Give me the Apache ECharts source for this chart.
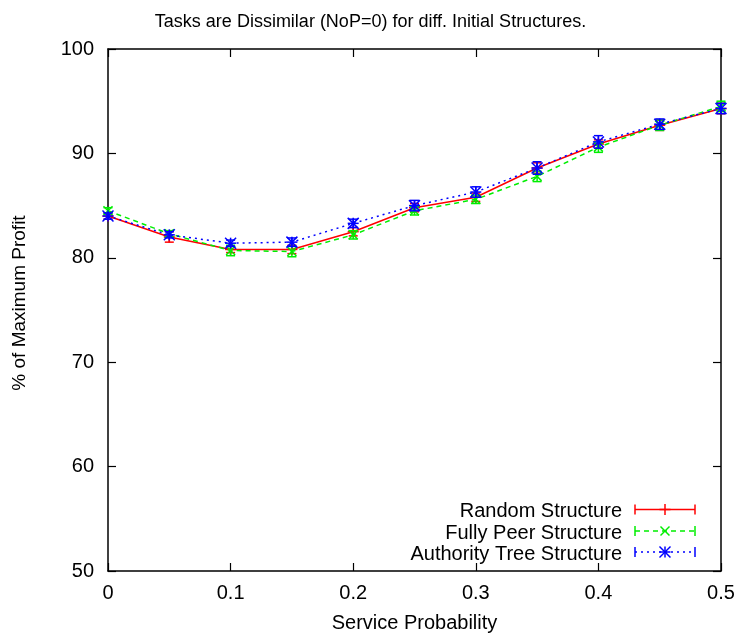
<!DOCTYPE html>
<html><head><meta charset="utf-8">
<script src="https://cdn.jsdelivr.net/npm/echarts@6/dist/echarts.min.js"></script>
<style>html,body{margin:0;padding:0;background:#fff}#c{width:741px;height:639px}</style>
</head><body><div id="c"></div>
<script>
var xValues = [0, 0.05, 0.1, 0.15, 0.2, 0.25, 0.3, 0.35, 0.4, 0.45, 0.5];
var randomVals = [84.0, 82.0, 80.8, 80.8, 82.5, 84.8, 85.8, 88.6, 90.9, 92.7, 94.3];
var randomErr  = [0.3, 0.5, 0.3, 0.4, 0.4, 0.4, 0.4, 0.5, 0.4, 0.5, 0.5];
var fullyVals = [84.5, 82.3, 80.7, 80.6, 82.2, 84.5, 85.6, 87.8, 90.6, 92.7, 94.5];
var fullyErr  = [0.3, 0.3, 0.5, 0.5, 0.4, 0.4, 0.4, 0.5, 0.5, 0.5, 0.5];
var authVals = [84.0, 82.2, 81.4, 81.5, 83.3, 85.0, 86.3, 88.6, 91.1, 92.8, 94.3];
var authErr  = [0.3, 0.3, 0.3, 0.4, 0.4, 0.5, 0.5, 0.6, 0.6, 0.5, 0.5];
var seriesNames = ['Random Structure', 'Fully Peer Structure', 'Authority Tree Structure'];
var xTicks = [0, 0.1, 0.2, 0.3, 0.4, 0.5];
var yTicks = [50, 60, 70, 80, 90, 100];

var FONT = 'Liberation Sans, Arial, Helvetica, sans-serif';
var FS = 20;
var colors = ['#ff0000', '#00ee00', '#0000ff'];
var dashes = ['solid', [5, 4], [2, 4]];
var glyphs = ['plus', 'cross', 'star'];

function pairs(v) { return xValues.map(function (x, i) { return [x, v[i]]; }); }
function errData(v, e) { return xValues.map(function (x, i) { return [x, v[i] - e[i], v[i] + e[i], v[i]]; }); }

function glyph(kind, cx, cy, r, color) {
  var els = [];
  var st = { stroke: color, lineWidth: 1.5 };
  function ln(x1, y1, x2, y2) { els.push({ type: 'line', shape: { x1: x1, y1: y1, x2: x2, y2: y2 }, style: st }); }
  if (kind === 'plus' || kind === 'star') { ln(cx - r, cy, cx + r, cy); ln(cx, cy - r, cx, cy + r); }
  if (kind === 'cross' || kind === 'star') { ln(cx - r, cy - r, cx + r, cy + r); ln(cx - r, cy + r, cx + r, cy - r); }
  return els;
}

function makeErrRender(idx) {
  return function (params, api) {
    var x = api.value(0);
    var lo = api.coord([x, api.value(1)]);
    var hi = api.coord([x, api.value(2)]);
    var c = api.coord([x, api.value(3)]);
    var st = { stroke: colors[idx], lineWidth: 1.5 };
    var w = 4.5;
    var ch = [
      { type: 'line', shape: { x1: lo[0], y1: lo[1], x2: hi[0], y2: hi[1] }, style: st },
      { type: 'line', shape: { x1: lo[0] - w, y1: lo[1], x2: lo[0] + w, y2: lo[1] }, style: st },
      { type: 'line', shape: { x1: hi[0] - w, y1: hi[1], x2: hi[0] + w, y2: hi[1] }, style: st }
    ];
    ch = ch.concat(glyph(glyphs[idx], c[0], c[1], idx === 1 ? 4.5 : 5.5, colors[idx]));
    return { type: 'group', children: ch };
  };
}

var series = [];
var vals = [randomVals, fullyVals, authVals];
var errs = [randomErr, fullyErr, authErr];
for (var i = 0; i < 3; i++) {
  series.push({
    name: seriesNames[i], type: 'line', data: pairs(vals[i]), showSymbol: false,
    lineStyle: { color: colors[i], width: 1.5, type: dashes[i] }, z: 3 + i, animation: false
  });
  series.push({
    type: 'custom', data: errData(vals[i], errs[i]), renderItem: makeErrRender(i),
    encode: { x: 0, y: [1, 2] }, z: 3 + i, animation: false, clip: false
  });
}

// legend drawn as graphics (gnuplot style: text right-aligned, sample to the right)
var legendGraphics = [];
var rowsY = [509.5, 531, 552];
for (var j = 0; j < 3; j++) {
  var yy = rowsY[j];
  legendGraphics.push({ type: 'text', x: 622, y: yy + 2,
    style: { text: seriesNames[j], font: FS + 'px ' + FONT, fill: '#000', textAlign: 'right', textVerticalAlign: 'middle' } });
  var st = { stroke: colors[j], lineWidth: 1.5, lineDash: dashes[j] === 'solid' ? null : dashes[j] };
  legendGraphics.push({ type: 'line', shape: { x1: 635, y1: yy, x2: 695, y2: yy }, style: st });
  var cap = { stroke: colors[j], lineWidth: 1.5 };
  legendGraphics.push({ type: 'line', shape: { x1: 635, y1: yy - 5, x2: 635, y2: yy + 5 }, style: cap });
  legendGraphics.push({ type: 'line', shape: { x1: 695, y1: yy - 5, x2: 695, y2: yy + 5 }, style: cap });
  glyph(glyphs[j], 665, yy, j === 1 ? 4.5 : 5.5, colors[j]).forEach(function (g) { legendGraphics.push(g); });
}

var chart = echarts.init(document.getElementById('c'), null, { renderer: 'canvas' });
var axisCommon = {
  axisLine: { show: true, onZero: false, lineStyle: { color: '#000', width: 1.5 } },
  axisTick: { show: true, inside: true, length: 8, lineStyle: { color: '#000', width: 1.2 } },
  splitLine: { show: false }
};
chart.setOption({
  animation: false,
  backgroundColor: '#fff',
  title: { text: 'Tasks are Dissimilar (NoP=0) for diff. Initial Structures.', left: 'center', top: 8,
    textStyle: { fontFamily: FONT, fontSize: 18, fontWeight: 'normal', color: '#000' } },
  grid: { left: 108, right: 20, top: 49, bottom: 68, show: false },
  xAxis: [
    Object.assign({ type: 'value', min: 0, max: 0.5, interval: 0.1, position: 'bottom',
      axisLabel: { color: '#000', fontFamily: FONT, fontSize: FS, margin: 12,
        formatter: function (v) { return xTicks.indexOf(+v.toFixed(2)) >= 0 ? String(+v.toFixed(2)) : ''; } },
      name: 'Service Probability', nameLocation: 'middle', nameGap: 42,
      nameTextStyle: { color: '#000', fontFamily: FONT, fontSize: FS } }, axisCommon),
    Object.assign({ type: 'value', min: 0, max: 0.5, interval: 0.1, position: 'top',
      axisLabel: { show: false } }, axisCommon)
  ],
  yAxis: [
    Object.assign({ type: 'value', min: 50, max: 100, interval: 10, position: 'left',
      axisLabel: { color: '#000', fontFamily: FONT, fontSize: FS, margin: 14,
        formatter: function (v) { return yTicks.indexOf(v) >= 0 ? String(v) : ''; } },
      name: '% of Maximum Profit', nameLocation: 'middle', nameGap: 79, nameRotate: 90,
      nameTextStyle: { color: '#000', fontFamily: FONT, fontSize: 19, padding: [0, 0, 0, 14] } }, axisCommon),
    Object.assign({ type: 'value', min: 50, max: 100, interval: 10, position: 'right',
      axisLabel: { show: false } }, axisCommon)
  ],
  series: series,
  graphic: legendGraphics
});
</script></body></html>
